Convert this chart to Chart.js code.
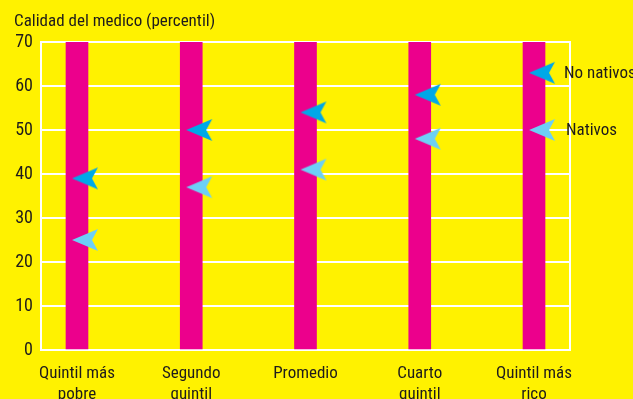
<!DOCTYPE html>
<html>
<head>
<meta charset="utf-8">
<script src="https://cdn.jsdelivr.net/npm/chart.js@4.4.1/dist/chart.umd.min.js"></script>
<style>
  html, body { margin: 0; padding: 0; background: #FFF200; }
  #wrap { width: 633px; height: 399px; position: relative; }
</style>
</head>
<body>
<div id="wrap"><canvas id="quintilChart"></canvas></div>
<script>
// ---- data ----
var categories = [['Quintil más', 'pobre'], ['Segundo', 'quintil'], ['Promedio'], ['Cuarto', 'quintil'], ['Quintil más', 'rico']];
var barTop = [70, 70, 70, 70, 70];
var noNativos = [39, 50, 54, 58, 63];
var nativos = [25, 37, 41, 48, 50];
var yTicks = [0, 10, 20, 30, 40, 50, 60, 70];

var FONT = "'Roboto Condensed', 'Liberation Sans', sans-serif";
var TEXT = '#1E1B1C';

// arrow marker drawn on a small canvas, tip a bit left of the point
function makeArrow(color) {
  var c = document.createElement('canvas');
  c.width = 60; c.height = 26;
  var g = c.getContext('2d');
  g.fillStyle = color;
  g.beginPath();
  g.moveTo(25, 13);   // tip
  g.lineTo(51, 2);
  g.lineTo(45, 13);   // notch
  g.lineTo(51, 24);
  g.closePath();
  g.fill();
  return c;
}

function pts(arr) { return arr.map(function(v, i) { return { x: i, y: v }; }); }

// title, right border and labels next to the last markers
var sideLabels = {
  id: 'sideLabels',
  beforeDatasetsDraw: function(chart) {
    var a = chart.chartArea, ctx = chart.ctx;
    ctx.save();
    ctx.strokeStyle = '#FFFFFF';
    ctx.lineWidth = 2;
    ctx.beginPath();
    ctx.moveTo(a.right, a.top - 1);
    ctx.lineTo(a.right, a.bottom + 1);
    ctx.stroke();
    ctx.restore();
  },
  afterDatasetsDraw: function(chart) {
    var ctx = chart.ctx, y = chart.scales.y;
    ctx.save();
    ctx.font = '17px ' + FONT;
    ctx.fillStyle = TEXT;
    ctx.textBaseline = 'middle';
    ctx.fillText('No nativos', 564, y.getPixelForValue(noNativos[4]) + 1);
    ctx.fillText('Nativos', 566, y.getPixelForValue(nativos[4]) + 1);
    ctx.textBaseline = 'alphabetic';
    ctx.fillText('Calidad del medico (percentil)', 14, 26);
    ctx.restore();
  }
};

var ctx = document.getElementById('quintilChart').getContext('2d');
var myChart = new Chart(ctx, {
  type: 'bar',
  data: {
    datasets: [
      {
        type: 'scatter',
        label: 'No nativos',
        data: pts(noNativos),
        pointStyle: makeArrow('#00A8E8'),
        order: 0
      },
      {
        type: 'scatter',
        label: 'Nativos',
        data: pts(nativos),
        pointStyle: makeArrow('#6DCFF6'),
        order: 1
      },
      {
        label: 'bar',
        data: pts(barTop),
        backgroundColor: '#EC008C',
        barThickness: 22,
        order: 2
      }
    ]
  },
  options: {
    responsive: true,
    maintainAspectRatio: false,
    animation: false,
    layout: { padding: { left: 0, right: 63, top: 42, bottom: 0 } },
    scales: {
      x: {
        type: 'linear',
        offset: false,
        min: -0.315,
        max: 4.315,
        grid: { display: false, drawTicks: false },
        border: { display: false },
        afterBuildTicks: function(scale) {
          scale.ticks = categories.map(function(_, i) { return { value: i }; });
        },
        afterFit: function(scale) { scale.height = 49; },
        ticks: {
          padding: 14,
          color: TEXT,
          font: { family: FONT, size: 17, lineHeight: 1.2 },
          maxRotation: 0,
          autoSkip: false,
          callback: function(v) { return categories[v]; }
        }
      },
      y: {
        min: 0,
        max: 70,
        afterBuildTicks: function(scale) {
          scale.ticks = yTicks.map(function(v) { return { value: v }; });
        },
        afterFit: function(scale) { scale.width = 41; },
        grid: { color: '#FFFFFF', lineWidth: 2, drawTicks: false },
        border: { color: '#FFFFFF', width: 2 },
        ticks: {
          padding: 8,
          color: TEXT,
          font: { family: FONT, size: 18 }
        }
      }
    },
    plugins: {
      legend: { display: false },
      tooltip: { enabled: false }
    }
  },
  plugins: [sideLabels]
});
</script>
</body>
</html>
